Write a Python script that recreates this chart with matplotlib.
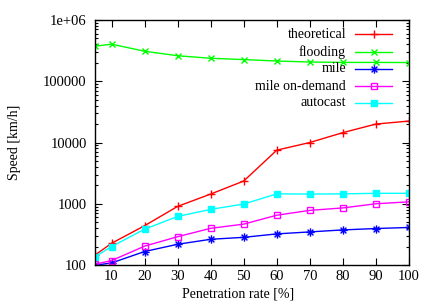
import numpy as np
import matplotlib
matplotlib.use("Agg")
import matplotlib.pyplot as plt
from matplotlib.lines import Line2D
from matplotlib.path import Path
from matplotlib.ticker import LogLocator, FixedLocator

plt.rcParams['font.family'] = ['Liberation Serif', 'DejaVu Serif']

rate = [5, 10, 20, 30, 40, 50, 60, 70, 80, 90, 100]
theoretical = [145, 226, 438, 906, 1440, 2350, 7500, 10000, 14500, 20000, 22400]
flooding = [373000, 403000, 309000, 261000, 237000, 226000, 214000, 206000, 203000, 203000, 202000]
mile = [99, 108, 166, 218, 263, 283, 322, 347, 374, 394, 410]
mile_od = [103, 118, 203, 290, 397, 465, 650, 780, 855, 1000, 1075]
autocast = [136, 200, 384, 621, 809, 990, 1450, 1440, 1450, 1480, 1480]

# gnuplot style star: + and x on top of each other
star = Path([(-1, 0), (1, 0), (0, -1), (0, 1),
             (-0.7, -0.7), (0.7, 0.7), (-0.7, 0.7), (0.7, -0.7)],
            [Path.MOVETO, Path.LINETO] * 4)

names = ["theoretical", "flooding", "mile", "mile on-demand", "autocast"]
series = [theoretical, flooding, mile, mile_od, autocast]
colors = ["#ff0000", "#00ff00", "#0000ff", "#ff00ff", "#00ffff"]
markers = ["+", "x", star, "s", "s"]
fills = ["full", "full", "full", "none", "full"]
msizes = [6, 5, 6, 5, 5]

W, H = 422, 305
fig = plt.figure(figsize=(W / 100, H / 100), dpi=100)
ax = fig.add_axes([95 / W, 1 - 265 / H, (409 - 95) / W, (265 - 20) / H])

for name, vals, c, m, f, ms in zip(names, series, colors, markers, fills, msizes):
    ax.plot(rate, vals, color=c, marker=m, fillstyle=f, markersize=ms,
            linewidth=1, markeredgewidth=1)

ax.set_yscale("log")
ax.set_xlim(5, 100)
ax.set_ylim(100, 1e6)
ax.xaxis.set_major_locator(FixedLocator([10, 20, 30, 40, 50, 60, 70, 80, 90, 100]))
ax.yaxis.set_major_locator(FixedLocator([100, 1000, 10000, 100000, 1e6]))
ax.set_yticklabels(["100", "1000", "10000", "100000", "1e+06"])
ax.yaxis.set_minor_locator(LogLocator(base=10, subs=np.arange(2, 10)))
ax.yaxis.set_minor_formatter(plt.NullFormatter())
ax.tick_params(which="both", direction="in", top=True, right=True, labelsize=10.5, width=0.8)
ax.tick_params(axis="y", which="major", pad=6)
ax.tick_params(which="major", length=5)
ax.tick_params(which="minor", length=2.5)
for s in ax.spines.values():
    s.set_linewidth(1)

ax.set_xlabel("Penetration rate [%]", fontsize=10, va="center")
ax.xaxis.set_label_coords((238 - 95) / 314, (265 - 294) / 245)
ax.set_ylabel("Speed [km/h]", fontsize=10, va="center")
ax.yaxis.set_label_coords((15 - 95) / 314, 0.5)

# legend, gnuplot style: text right aligned, sample on the right
rows = [34.3, 51.7, 69, 86, 103]
for name, c, m, f, ms, yp in zip(names, colors, markers, fills, msizes, rows):
    fy = 1 - yp / H
    fig.text(346 / W, fy, name, ha="right", va="center", fontsize=10)
    fig.add_artist(Line2D([355 / W, 392 / W], [fy, fy], transform=fig.transFigure,
                          color=c, linewidth=1))
    fig.add_artist(Line2D([373.5 / W], [fy], transform=fig.transFigure, color=c,
                          marker=m, fillstyle=f, markersize=ms, markeredgewidth=1))

fig.savefig("out.png", dpi=100)
